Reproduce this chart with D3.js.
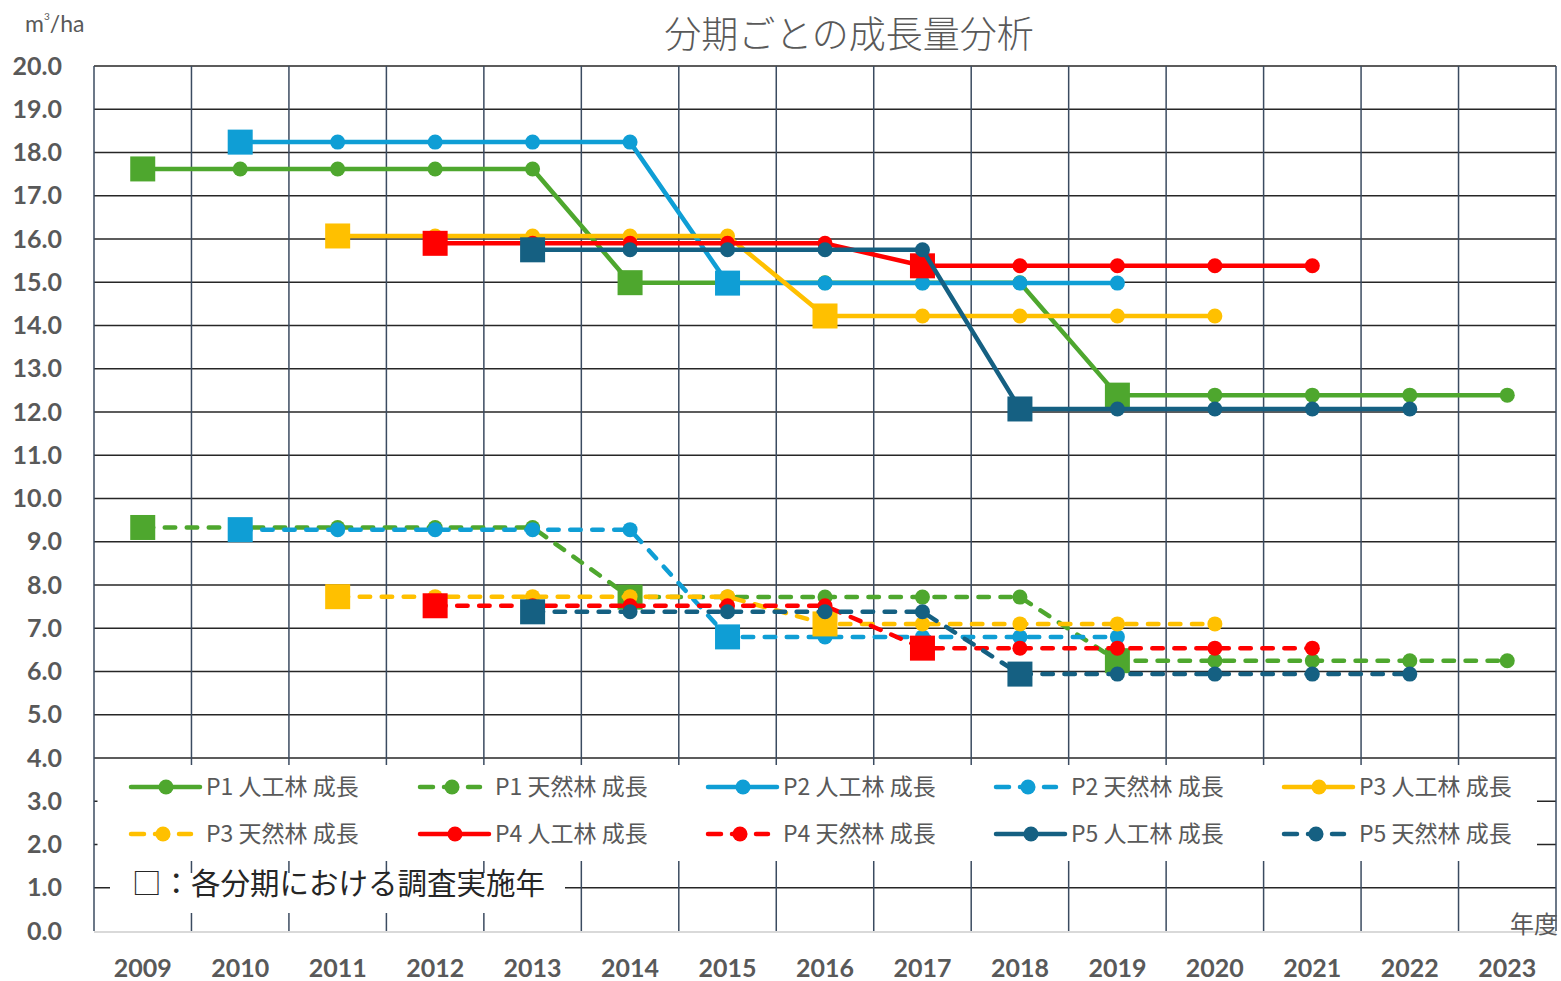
<!DOCTYPE html>
<html>
<head>
<meta charset="utf-8">
<script src="https://cdn.jsdelivr.net/npm/d3@7"></script>
<style>
  body { margin: 0; background: #fff; }
  svg { display: block; }
  .cjk { font-family: "Noto Sans CJK JP", "Noto Sans", sans-serif; }
  .num { font-family: Lato, "Open Sans", sans-serif; font-weight: 700; fill: #595959; }
</style>
</head>
<body>
<div id="chart"></div>
<script>
// Years on the x axis
const years = [2009, 2010, 2011, 2012, 2013, 2014, 2015, 2016, 2017, 2018, 2019, 2020, 2021, 2022, 2023];

// Growth per period (m3/ha), null where the plot has no value
const p1Plant = [17.62, 17.62, 17.62, 17.62, 17.62, 14.99, 14.99, 14.99, 14.99, 14.99, 12.39, 12.39, 12.39, 12.39, 12.39];
const p1Nat   = [9.33, 9.33, 9.33, 9.33, 9.33, 7.72, 7.72, 7.72, 7.72, 7.72, 6.25, 6.25, 6.25, 6.25, 6.25];
const p2Plant = [null, 18.24, 18.24, 18.24, 18.24, 18.24, 14.98, 14.98, 14.98, 14.98, 14.98, null, null, null, null];
const p2Nat   = [null, 9.28, 9.28, 9.28, 9.28, 9.28, 6.8, 6.8, 6.8, 6.8, 6.8, null, null, null, null];
const p3Plant = [null, null, 16.07, 16.07, 16.07, 16.07, 16.07, 14.22, 14.22, 14.22, 14.22, 14.22, null, null, null];
const p3Nat   = [null, null, 7.73, 7.73, 7.73, 7.73, 7.73, 7.1, 7.1, 7.1, 7.1, 7.1, null, null, null];
const p4Plant = [null, null, null, 15.9, 15.9, 15.9, 15.9, 15.9, 15.38, 15.38, 15.38, 15.38, 15.38, null, null];
const p4Nat   = [null, null, null, 7.52, 7.52, 7.52, 7.52, 7.52, 6.54, 6.54, 6.54, 6.54, 6.54, null, null];
const p5Plant = [null, null, null, null, 15.75, 15.75, 15.75, 15.75, 15.75, 12.07, 12.07, 12.07, 12.07, 12.07, null];
const p5Nat   = [null, null, null, null, 7.38, 7.38, 7.38, 7.38, 7.38, 5.94, 5.94, 5.94, 5.94, 5.94, null];

// Survey years (square markers) for each plot
const p1Survey = [2009, 2014, 2019];
const p2Survey = [2010, 2015];
const p3Survey = [2011, 2016];
const p4Survey = [2012, 2017];
const p5Survey = [2013, 2018];

const seriesNames = ["P1 人工林 成長", "P1 天然林 成長", "P2 人工林 成長", "P2 天然林 成長", "P3 人工林 成長",
                     "P3 天然林 成長", "P4 人工林 成長", "P4 天然林 成長", "P5 人工林 成長", "P5 天然林 成長"];

const colors = { P1: "#4EA72E", P2: "#0F9ED5", P3: "#FFC000", P4: "#FF0000", P5: "#156082" };

const series = [
  { name: seriesNames[0], values: p1Plant, survey: p1Survey, color: colors.P1, dashed: false },
  { name: seriesNames[1], values: p1Nat,   survey: p1Survey, color: colors.P1, dashed: true },
  { name: seriesNames[2], values: p2Plant, survey: p2Survey, color: colors.P2, dashed: false },
  { name: seriesNames[3], values: p2Nat,   survey: p2Survey, color: colors.P2, dashed: true },
  { name: seriesNames[4], values: p3Plant, survey: p3Survey, color: colors.P3, dashed: false },
  { name: seriesNames[5], values: p3Nat,   survey: p3Survey, color: colors.P3, dashed: true },
  { name: seriesNames[6], values: p4Plant, survey: p4Survey, color: colors.P4, dashed: false },
  { name: seriesNames[7], values: p4Nat,   survey: p4Survey, color: colors.P4, dashed: true },
  { name: seriesNames[8], values: p5Plant, survey: p5Survey, color: colors.P5, dashed: false },
  { name: seriesNames[9], values: p5Nat,   survey: p5Survey, color: colors.P5, dashed: true }
];

const W = 1561, H = 981;
const plotLeft = 94, plotRight = 1556, plotTop = 66, plotBottom = 931;

const svg = d3.select("#chart").append("svg")
  .attr("width", W)
  .attr("height", H);

// Scales
const x = d3.scaleBand().domain(years).range([plotLeft, plotRight]).padding(0);
const cx = yr => x(yr) + x.bandwidth() / 2;
const y = d3.scaleLinear().domain([0, 20]).range([plotBottom, plotTop]);

// Horizontal gridlines
svg.append("g")
  .selectAll("line")
  .data(d3.range(1, 21))
  .join("line")
  .attr("x1", plotLeft).attr("x2", plotRight)
  .attr("y1", d => y(d)).attr("y2", d => y(d))
  .attr("stroke", "#262626")
  .attr("stroke-width", 1.5);

// Vertical gridlines at category boundaries
const bounds = years.map(d => x(d)).concat([plotRight]);
svg.append("g")
  .selectAll("line")
  .data(bounds)
  .join("line")
  .attr("x1", d => d).attr("x2", d => d)
  .attr("y1", plotTop).attr("y2", plotBottom)
  .attr("stroke", "#3B4B60")
  .attr("stroke-width", 1.5);

// x axis baseline
svg.append("line")
  .attr("x1", plotLeft).attr("x2", plotRight)
  .attr("y1", plotBottom + 1).attr("y2", plotBottom + 1)
  .attr("stroke", "#D9D9D9")
  .attr("stroke-width", 2);

// Y axis labels
const yAxis = svg.append("g")
  .attr("transform", `translate(${plotLeft - 32},0)`)
  .call(d3.axisLeft(y).ticks(20).tickSize(0).tickFormat(d3.format(".1f")));
yAxis.select(".domain").remove();
yAxis.selectAll("text")
  .attr("class", "num")
  .attr("x", 0)
  .style("font-size", "25px");

// X axis labels
const xAxis = svg.append("g")
  .attr("transform", `translate(0,${plotBottom})`)
  .call(d3.axisBottom(x).tickSize(0));
xAxis.select(".domain").remove();
xAxis.selectAll("text")
  .attr("class", "num")
  .attr("y", 37)
  .attr("dy", "0.35em")
  .style("font-size", "25px");

// Series
const line = d3.line()
  .defined(v => v != null)
  .x((v, i) => cx(years[i]))
  .y(v => y(v));

series.forEach(s => {
  const g = svg.append("g");
  g.append("path")
    .attr("d", line(s.values))
    .attr("fill", "none")
    .attr("stroke", s.color)
    .attr("stroke-width", 4.5)
    .attr("stroke-linecap", "round")
    .attr("stroke-linejoin", "round")
    .attr("stroke-dasharray", s.dashed ? "10.5,11.5" : null);

  const pts = s.values.map((v, i) => ({ yr: years[i], v })).filter(d => d.v != null);
  g.selectAll("circle")
    .data(pts)
    .join("circle")
    .attr("cx", d => cx(d.yr))
    .attr("cy", d => y(d.v))
    .attr("r", 7.5)
    .attr("fill", s.color);

  g.selectAll("rect")
    .data(s.survey)
    .join("rect")
    .attr("x", d => cx(d) - 12.5)
    .attr("y", d => y(s.values[years.indexOf(d)]) - 12.5)
    .attr("width", 25)
    .attr("height", 25)
    .attr("fill", s.color);
});

// Legend box
svg.append("rect")
  .attr("x", 97.5).attr("y", 765)
  .attr("width", 1439.5).attr("height", 96)
  .attr("fill", "#fff");

const legendCols = [129, 418, 706, 994, 1282];
const legendRows = [787, 834];
series.forEach((s, i) => {
  const lx = legendCols[i % 5];
  const ly = legendRows[Math.floor(i / 5)];
  const g = svg.append("g");
  if (s.dashed) {
    g.append("line")
      .attr("x1", lx + 2).attr("x2", lx + 62)
      .attr("y1", ly).attr("y2", ly)
      .attr("stroke", s.color)
      .attr("stroke-width", 4.5)
      .attr("stroke-linecap", "round")
      .attr("stroke-dasharray", "13,11");
    g.append("circle").attr("cx", lx + 34).attr("cy", ly).attr("r", 7.5).attr("fill", s.color);
  } else {
    g.append("line")
      .attr("x1", lx + 2).attr("x2", lx + 71)
      .attr("y1", ly).attr("y2", ly)
      .attr("stroke", s.color)
      .attr("stroke-width", 4.5)
      .attr("stroke-linecap", "round");
    g.append("circle").attr("cx", lx + 37).attr("cy", ly).attr("r", 7.5).attr("fill", s.color);
  }
  g.append("text")
    .attr("class", "cjk")
    .attr("x", lx + 77)
    .attr("y", ly)
    .attr("dy", "0.35em")
    .attr("fill", "#595959")
    .style("font-size", "23px")
    .text(s.name);
});

// Note box
svg.append("rect")
  .attr("x", 110).attr("y", 873)
  .attr("width", 455).attr("height", 40)
  .attr("fill", "#fff");
svg.append("text")
  .attr("class", "cjk")
  .attr("x", 132)
  .attr("y", 884)
  .attr("dy", "0.35em")
  .attr("fill", "#262626")
  .style("font-size", "29.5px")
  .text("□：各分期における調査実施年");

// Title
svg.append("text")
  .attr("class", "cjk")
  .attr("x", 849)
  .attr("y", 35)
  .attr("dy", "0.35em")
  .attr("text-anchor", "middle")
  .attr("fill", "#595959")
  .style("font-size", "37px")
  .style("font-weight", 300)
  .text("分期ごとの成長量分析");

// Unit label
const unit = svg.append("text")
  .attr("x", 25)
  .attr("y", 32)
  .attr("fill", "#595959")
  .style("font-family", "Lato, 'Open Sans', sans-serif")
  .style("font-size", "23px");
unit.append("tspan").text("m");
unit.append("tspan").attr("dy", -12).style("font-size", "10px").text("3");
unit.append("tspan").attr("dy", 12).text("/ha");

// x axis title
svg.append("text")
  .attr("class", "cjk")
  .attr("x", 1510)
  .attr("y", 925)
  .attr("dy", "0.35em")
  .attr("fill", "#595959")
  .style("font-size", "24px")
  .text("年度");
</script>
</body>
</html>
